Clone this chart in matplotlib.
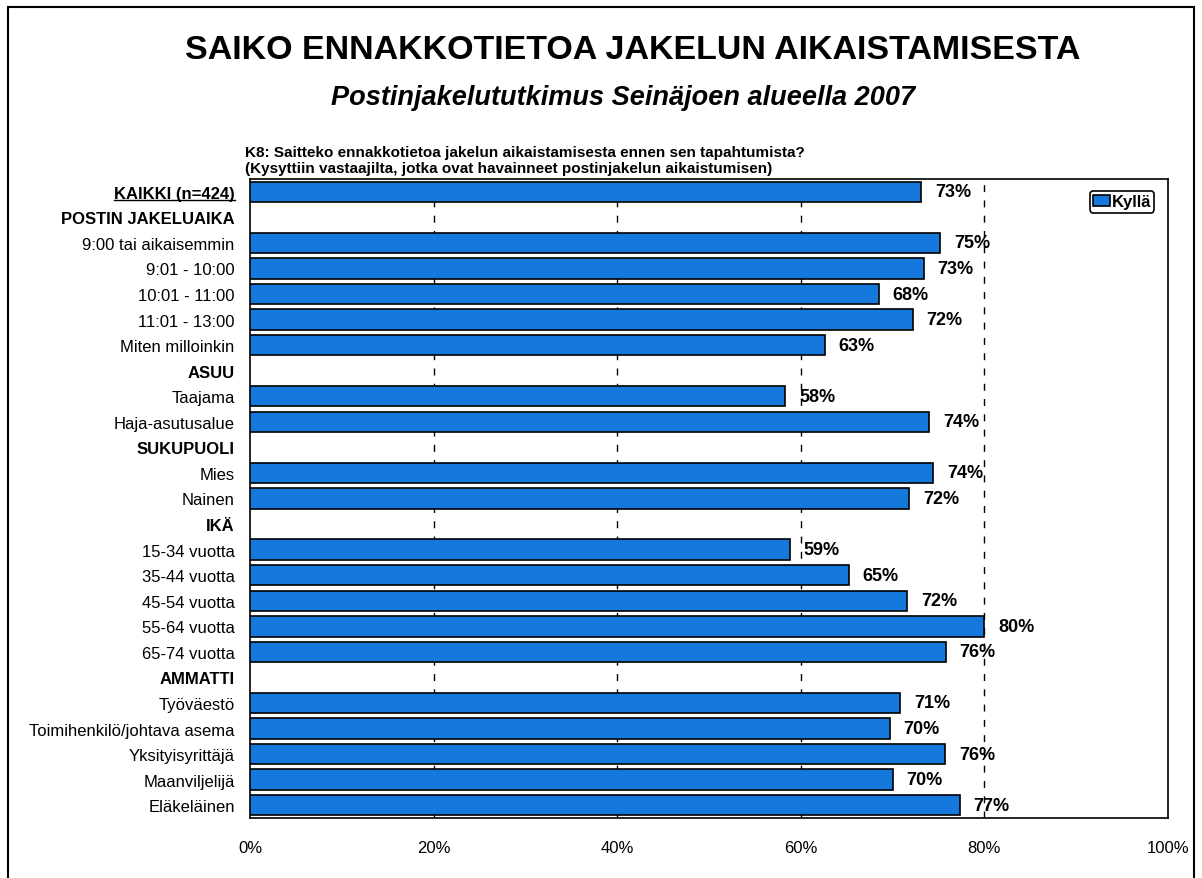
import matplotlib
matplotlib.use("Agg")
import matplotlib.pyplot as plt
from matplotlib.patches import Rectangle
from matplotlib.lines import Line2D
import numpy as np

plt.rcParams['font.family'] = ['Liberation Sans', 'DejaVu Sans']

# rows of the chart, top to bottom (headers have no value)
labels = ['KAIKKI (n=424)', 'POSTIN JAKELUAIKA', '9:00 tai aikaisemmin', '9:01 - 10:00',
          '10:01 - 11:00', '11:01 - 13:00', 'Miten milloinkin', 'ASUU', 'Taajama',
          'Haja-asutusalue', 'SUKUPUOLI', 'Mies', 'Nainen', 'IKÄ', '15-34 vuotta',
          '35-44 vuotta', '45-54 vuotta', '55-64 vuotta', '65-74 vuotta', 'AMMATTI',
          'Työväestö', 'Toimihenkilö/johtava asema', 'Yksityisyrittäjä', 'Maanviljelijä',
          'Eläkeläinen']
headers = ['KAIKKI (n=424)', 'POSTIN JAKELUAIKA', 'ASUU', 'SUKUPUOLI', 'IKÄ', 'AMMATTI']
kylla = [73.1, np.nan, 75.2, 73.4, 68.5, 72.2, 62.6, np.nan, 58.3, 74.0, np.nan, 74.4, 71.8,
         np.nan, 58.8, 65.2, 71.6, 80.0, 75.8, np.nan, 70.8, 69.7, 75.7, 70.0, 77.3]
xticks = [0, 20, 40, 60, 80, 100]

W, H = 1202, 879
fig = plt.figure(figsize=(W / 100, H / 100), dpi=100)
ax = fig.add_axes([250 / W, 1 - 819 / H, 918 / W, 639 / H])

y = np.arange(len(labels))
vals = np.array(kylla)
mask = ~np.isnan(vals)
ax.barh(y[mask], vals[mask], height=0.8, color='#1478dc', edgecolor='black',
        linewidth=1.2, zorder=3, label='Kyllä')

for yi, v in zip(y[mask], vals[mask]):
    ax.annotate(f'{v:.0f}%', (v, yi), xytext=(10, 0), textcoords='offset points',
                ha='left', va='center', fontsize=13, fontweight='bold', zorder=4)

ax.set_xlim(0, 100)
ax.set_ylim(len(labels) - 0.5, -0.5)
ax.set_xticks(xticks)
ax.set_xticklabels([f'{t}%' for t in xticks], fontsize=12)
ax.set_yticks(y)
ax.set_yticklabels(labels, fontsize=12)
for lab in ax.get_yticklabels():
    if lab.get_text() in headers:
        lab.set_fontweight('bold')
ax.tick_params(axis='y', length=0, pad=11)
ax.tick_params(axis='x', length=0, pad=16)

for g in xticks[1:-1]:
    ax.axvline(g, color='black', linestyle=(0, (5, 6)), linewidth=1, zorder=1)
for s in ax.spines.values():
    s.set_linewidth(1.2)
    s.set_color('black')

leg = ax.legend(loc='upper right', bbox_to_anchor=(0.985, 0.981),
                prop={'weight': 'bold', 'size': 12}, handlelength=1.0, handleheight=0.6,
                handletextpad=0.1, borderpad=0.2, borderaxespad=0, fancybox=True)
leg.get_frame().set_edgecolor('black')
leg.get_frame().set_linewidth(1.2)
leg.get_frame().set_alpha(1)

fig.text(633 / W, 1 - 59 / H, 'SAIKO ENNAKKOTIETOA JAKELUN AIKAISTAMISESTA', ha='center',
         va='baseline', fontsize=24.5, fontweight='bold')
fig.text(623 / W, 1 - 105 / H, 'Postinjakelututkimus Seinäjoen alueella 2007', ha='center',
         va='baseline', fontsize=19.5, fontweight='bold', style='italic')
fig.text(245 / W, 1 - 161 / H,
         'K8: Saitteko ennakkotietoa jakelun aikaistamisesta ennen sen tapahtumista?\n'
         '(Kysyttiin vastaajilta, jotka ovat havainneet postinjakelun aikaistumisen)',
         ha='left', va='center', fontsize=11, fontweight='bold', linespacing=1.1)

# outer frame of the picture
fig.patches.append(Rectangle((8 / W, -0.02), (1194 - 8) / W, 1.02 - 8 / H,
                             transform=fig.transFigure, fill=False,
                             edgecolor='black', linewidth=1.5))

# underline the total row label
fig.canvas.draw()
lab0 = ax.get_yticklabels()[0]
bb = lab0.get_window_extent()
yline = bb.y0 + 1
fig.lines.append(Line2D([bb.x0 / W, bb.x1 / W], [yline / H, yline / H],
                        transform=fig.transFigure, color='black', linewidth=1))

fig.savefig('out.png', dpi=100)
